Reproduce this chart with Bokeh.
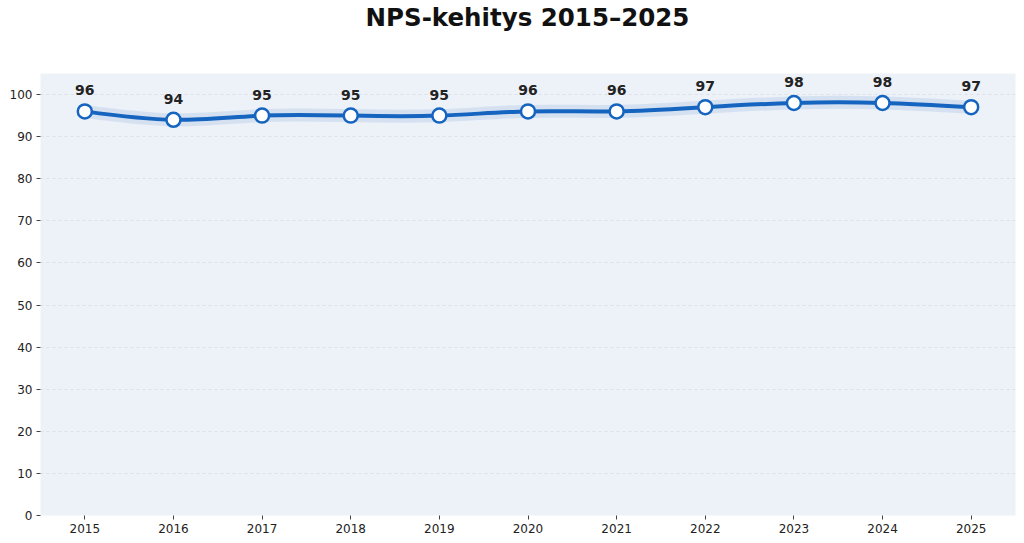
import numpy as np
from bokeh.plotting import figure
from bokeh.models import ColumnDataSource, Range1d, FixedTicker, Div
from bokeh.layouts import column
from bokeh.core.properties import value
from bokeh.embed import file_html
from bokeh.resources import INLINE

years = [2015, 2016, 2017, 2018, 2019, 2020, 2021, 2022, 2023, 2024, 2025]
nps = [96, 94, 95, 95, 95, 96, 96, 97, 98, 98, 97]
y_ticks = list(range(0, 101, 10))
title_text = "NPS-kehitys 2015–2025"

LINE = "#1565C0"
BG = "#EDF1F8"
FONT = "DejaVu Sans"

# natural cubic spline slopes -> bezier control points (rendering of the data)
x = np.array(years, dtype=float)
y = np.array(nps, dtype=float)
n = len(x)
h = np.diff(x)
A = np.zeros((n, n))
b = np.zeros(n)
A[0, 0] = 1
A[-1, -1] = 1
for i in range(1, n - 1):
    A[i, i - 1] = h[i - 1]
    A[i, i] = 2 * (h[i - 1] + h[i])
    A[i, i + 1] = h[i]
    b[i] = 6 * ((y[i + 1] - y[i]) / h[i] - (y[i] - y[i - 1]) / h[i - 1])
M = np.linalg.solve(A, b)
slopes = np.zeros(n)
for i in range(n - 1):
    slopes[i] = (y[i + 1] - y[i]) / h[i] - h[i] * (2 * M[i] + M[i + 1]) / 6
slopes[-1] = (y[-1] - y[-2]) / h[-1] + h[-1] * (M[-2] + 2 * M[-1]) / 6

bez = ColumnDataSource(dict(
    x0=x[:-1], y0=y[:-1], x1=x[1:], y1=y[1:],
    cx0=x[:-1] + h / 3, cy0=y[:-1] + slopes[:-1] * h / 3,
    cx1=x[1:] - h / 3, cy1=y[1:] - slopes[1:] * h / 3,
))
src = ColumnDataSource(dict(x=years, y=nps, lab=[str(v) for v in nps]))

W = 1018
TITLE_H = 36

title_div = Div(
    text=(f'<div style="margin:0 0 0 37px;width:{W - 37}px;height:{TITLE_H}px;'
          f'line-height:{TITLE_H}px;text-align:center;font-family:\'{FONT}\';'
          f'font-size:24.5px;font-weight:bold;color:#111111;white-space:nowrap;">'
          f'{title_text}</div>'),
    width=W, height=TITLE_H, margin=(0, 0, 0, 0))

p = figure(width=W, height=540 - TITLE_H, output_backend="svg", toolbar_location=None,
           x_range=Range1d(2014.5, 2025.5), y_range=Range1d(0, 105),
           min_border_left=40, min_border_right=3, min_border_bottom=25,
           min_border_top=73 - TITLE_H, margin=(0, 0, 0, 0))
p.outline_line_color = None
p.background_fill_color = BG
p.border_fill_color = "white"

p.xgrid.grid_line_color = None
p.ygrid.grid_line_color = "#D8DCE3"
p.ygrid.grid_line_dash = "3 3"
p.ygrid.grid_line_width = 0.8
p.ygrid.ticker = FixedTicker(ticks=y_ticks)

for ax in (p.xaxis, p.yaxis):
    ax.axis_line_color = None
    ax.major_tick_line_color = "#444444"
    ax.major_tick_in = 0
    ax.major_tick_out = 4
    ax.minor_tick_line_color = None
    ax.major_label_text_font = FONT
    ax.major_label_text_font_size = "12px"
    ax.major_label_text_color = "#222222"
    ax.major_label_standoff = 4
p.xaxis.ticker = FixedTicker(ticks=years)
p.yaxis.ticker = FixedTicker(ticks=y_ticks)

# glow band
p.bezier(x0="x0", y0="y0", x1="x1", y1="y1", cx0="cx0", cy0="cy0", cx1="cx1", cy1="cy1",
         source=bez, line_color=LINE, line_width=13, line_alpha=0.11)
p.bezier(x0="x0", y0="y0", x1="x1", y1="y1", cx0="cx0", cy0="cy0", cx1="cx1", cy1="cy1",
         source=bez, line_color=LINE, line_width=4, line_cap="round")
p.scatter("x", "y", source=src, size=14, fill_color="white", line_color=LINE, line_width=2.5)
p.text("x", "y", text="lab", source=src, text_align="center", text_baseline="middle",
       y_offset=-21, text_font=value(FONT), text_font_style="bold",
       text_font_size="14px", text_color="#222222")

layout = column(title_div, p, spacing=0)
open("out.html", "w").write(file_html(layout, INLINE))
